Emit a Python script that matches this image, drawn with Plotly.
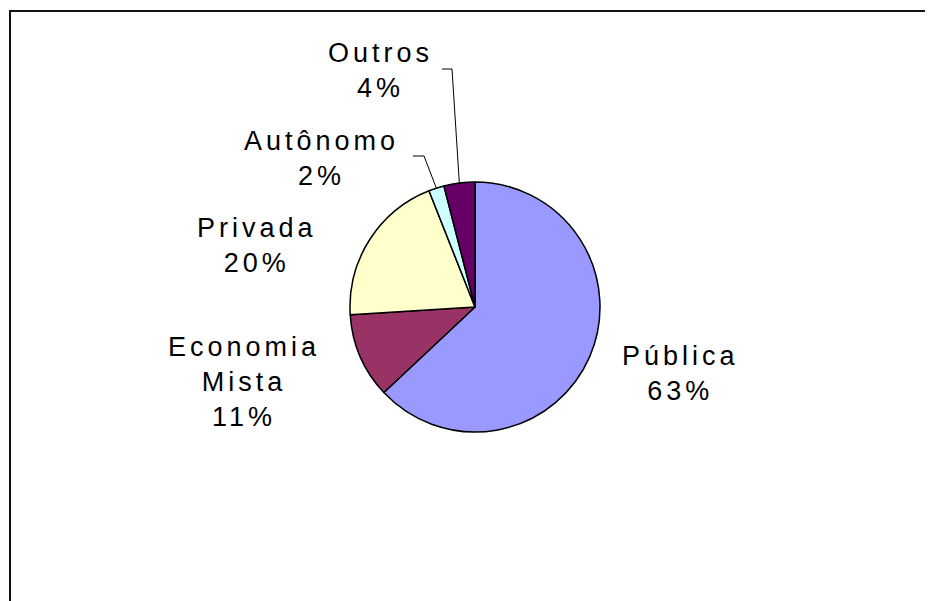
import math
import plotly.graph_objects as go

# ---- data ----
categories = ["Pública", "Economia Mista", "Privada", "Autônomo", "Outros"]
label_lines = [["Pública"], ["Economia", "Mista"], ["Privada"], ["Autônomo"], ["Outros"]]
values = [63, 11, 20, 2, 4]
colors = ["#9999FF", "#993366", "#FFFFCC", "#CCFFFF", "#660066"]

W, H = 933, 601
OFF = 8  # page body margin
CX, CY, R = 475, 307, 125  # pie centre / radius in window pixels


def px(x):
    return (x - OFF) / W


def py(y):
    return 1 - (y - OFF) / H


fig = go.Figure(
    go.Pie(
        labels=categories,
        values=values,
        marker=dict(colors=colors, line=dict(color="black", width=1.5)),
        sort=False,
        direction="clockwise",
        rotation=0,
        textinfo="none",
        hoverinfo="label+percent",
        showlegend=False,
        domain=dict(x=[px(CX - R), px(CX + R)], y=[py(CY + R), py(CY - R)]),
    )
)

# label positions (block centres, pixels)
label_pos = {
    "Pública": (680, 373),
    "Economia Mista": (244, 382),
    "Privada": (257, 245),
    "Autônomo": (321, 158),
    "Outros": (380, 70),
}

total = sum(values)
annotations = []
for cat, lines, v in zip(categories, label_lines, values):
    pct = f"{round(100 * v / total)}%"
    txt = "<br>".join(
        f'<span style="letter-spacing:4px">{t}</span>' for t in lines + [pct]
    )
    x, y = label_pos[cat]
    annotations.append(
        dict(
            x=px(x), y=py(y), xref="paper", yref="paper", text=txt,
            showarrow=False, xanchor="center", yanchor="middle", align="center",
            font=dict(family="Liberation Sans, Arial, sans-serif", size=27, color="black"),
        )
    )

# leader lines for the small slices, ending at the slice mid-arc
shapes = []
cum = 0
mids = {}
for cat, v in zip(categories, values):
    mid = (cum + v / 2) / total
    ang = 2 * math.pi * mid
    mids[cat] = (CX + R * math.sin(ang), CY - R * math.cos(ang))
    cum += v

leader_start = {"Outros": (442, 69, 452), "Autônomo": (413, 156, 424)}
for cat, (x0, y0, xk) in leader_start.items():
    ex, ey = mids[cat]
    shapes.append(
        dict(
            type="path", xref="paper", yref="paper",
            path=f"M {px(x0)},{py(y0)} L {px(xk)},{py(y0)} L {px(ex)},{py(ey)}",
            line=dict(color="black", width=1),
        )
    )

# chart-area frame
shapes.append(
    dict(type="rect", xref="paper", yref="paper",
         x0=px(10), y0=py(11), x1=1.02, y1=-0.02,
         line=dict(color="#111111", width=2), fillcolor="rgba(0,0,0,0)", layer="below")
)

fig.update_layout(
    width=W, height=H,
    margin=dict(l=0, r=0, t=0, b=0),
    paper_bgcolor="white", plot_bgcolor="white",
    annotations=annotations,
    shapes=shapes,
)

fig.write_html("out.html")
